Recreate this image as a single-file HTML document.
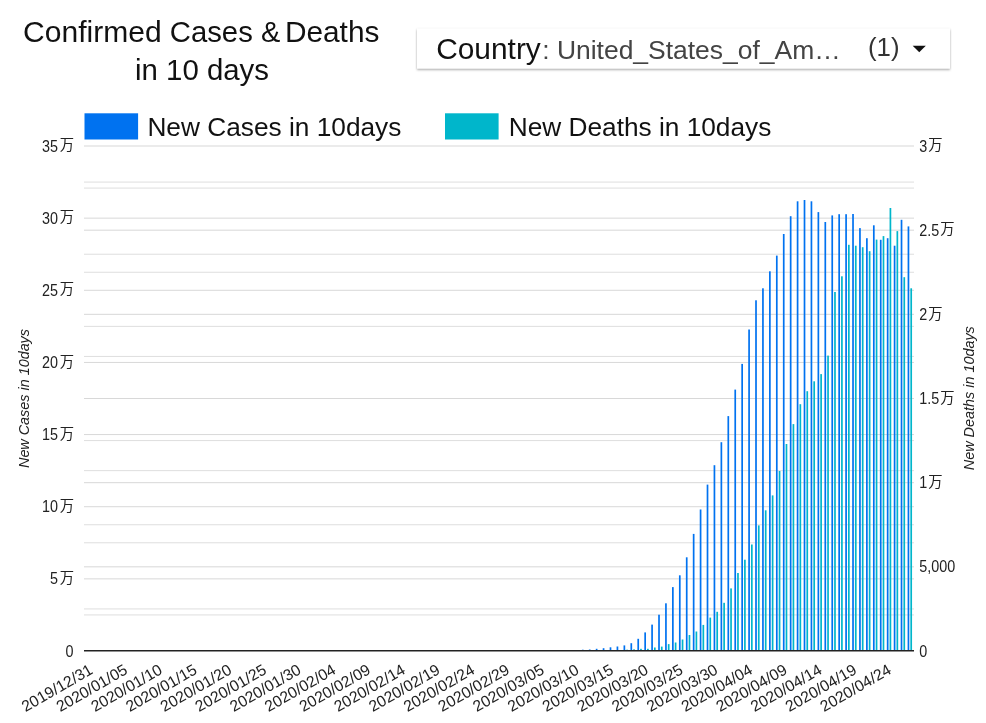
<!DOCTYPE html>
<html><head><meta charset="utf-8"><title>Confirmed Cases &amp; Deaths in 10 days</title>
<style>
html,body{margin:0;padding:0;background:#fff;}
body{width:986px;height:723px;overflow:hidden;position:relative;font-family:"Liberation Sans","Noto Sans CJK JP",sans-serif;}
svg{position:absolute;left:0;top:0;display:block}
text{font-family:"Liberation Sans","Noto Sans CJK JP",sans-serif;}
.ax{font-size:15.7px;fill:#222;}
.title{font-size:29px;fill:#111;}
.leg{font-size:26px;fill:#111;}
.cj{font-size:14.3px;fill:#222;}
.at{font-size:14.2px;font-style:italic;fill:#222;}
</style></head><body>
<svg width="986" height="723" viewBox="0 0 986 723">
<defs><filter id="sh" x="-5%" y="-20%" width="110%" height="150%"><feDropShadow dx="0" dy="1.2" stdDeviation="1.1" flood-color="#000" flood-opacity="0.38"/></filter></defs>
<rect width="986" height="723" fill="#fff"/>
<text class="title" y="42.3"><tspan x="23.1" textLength="138.6" lengthAdjust="spacingAndGlyphs">Confirmed</tspan> <tspan x="169.8" textLength="83" lengthAdjust="spacingAndGlyphs">Cases</tspan> <tspan x="260.9" textLength="19.3" lengthAdjust="spacingAndGlyphs">&amp;</tspan> <tspan x="284.9" textLength="94.5" lengthAdjust="spacingAndGlyphs">Deaths</tspan></text>
<text class="title" x="202" y="79.9" text-anchor="middle" textLength="134" lengthAdjust="spacingAndGlyphs">in 10 days</text>
<rect x="417" y="28.5" width="533" height="40" fill="#fff" filter="url(#sh)"/>
<text x="436.2" y="59.0" font-size="30" fill="#111" textLength="104.6" lengthAdjust="spacingAndGlyphs">Country</text>
<text x="542.2" y="59.2" font-size="25" fill="#444" textLength="298.5" lengthAdjust="spacingAndGlyphs">: United_States_of_Am…</text>
<text x="868" y="56.0" font-size="25" fill="#333" textLength="31.5" lengthAdjust="spacingAndGlyphs">(1)</text>
<path d="M912.7 45.8 L925.8 45.8 L919.25 52.3 Z" fill="#111"/>
<rect x="84.5" y="113.3" width="53.6" height="26.2" fill="#0072f0"/>
<text class="leg" x="147.4" y="136.0" textLength="254" lengthAdjust="spacingAndGlyphs">New Cases in 10days</text>
<rect x="445" y="113.3" width="53.6" height="26.2" fill="#00b6cb"/>
<text class="leg" x="508.7" y="136.0" textLength="262.6" lengthAdjust="spacingAndGlyphs">New Deaths in 10days</text>
<g>
<rect x="84.0" y="578.36" width="830.0" height="1" fill="#d8d8d8"/>
<rect x="84.0" y="506.21" width="830.0" height="1" fill="#d8d8d8"/>
<rect x="84.0" y="434.07" width="830.0" height="1" fill="#d8d8d8"/>
<rect x="84.0" y="361.93" width="830.0" height="1" fill="#d8d8d8"/>
<rect x="84.0" y="289.79" width="830.0" height="1" fill="#d8d8d8"/>
<rect x="84.0" y="217.64" width="830.0" height="1" fill="#d8d8d8"/>
<rect x="84.0" y="145.50" width="830.0" height="1" fill="#d8d8d8"/>
<rect x="84.0" y="614.43" width="830.0" height="1" fill="#dedede"/>
<rect x="84.0" y="542.29" width="830.0" height="1" fill="#dedede"/>
<rect x="84.0" y="470.14" width="830.0" height="1" fill="#dedede"/>
<rect x="84.0" y="398.00" width="830.0" height="1" fill="#dedede"/>
<rect x="84.0" y="325.86" width="830.0" height="1" fill="#dedede"/>
<rect x="84.0" y="253.71" width="830.0" height="1" fill="#dedede"/>
<rect x="84.0" y="181.57" width="830.0" height="1" fill="#dedede"/>
<rect x="84.0" y="566.33" width="830.0" height="1" fill="#d8d8d8"/>
<rect x="84.0" y="482.17" width="830.0" height="1" fill="#d8d8d8"/>
<rect x="84.0" y="398.00" width="830.0" height="1" fill="#d8d8d8"/>
<rect x="84.0" y="313.83" width="830.0" height="1" fill="#d8d8d8"/>
<rect x="84.0" y="229.67" width="830.0" height="1" fill="#d8d8d8"/>
<rect x="84.0" y="608.42" width="830.0" height="1" fill="#dedede"/>
<rect x="84.0" y="524.25" width="830.0" height="1" fill="#dedede"/>
<rect x="84.0" y="440.08" width="830.0" height="1" fill="#dedede"/>
<rect x="84.0" y="355.92" width="830.0" height="1" fill="#dedede"/>
<rect x="84.0" y="271.75" width="830.0" height="1" fill="#dedede"/>
<rect x="84.0" y="187.58" width="830.0" height="1" fill="#dedede"/>
</g>
<g>
<rect x="581.94" y="649.70" width="1.7" height="0.60" fill="#0072f0"/>
<rect x="588.87" y="649.50" width="1.7" height="0.80" fill="#0072f0"/>
<rect x="595.79" y="648.80" width="1.7" height="1.50" fill="#0072f0"/>
<rect x="602.72" y="648.20" width="1.7" height="2.10" fill="#0072f0"/>
<rect x="609.65" y="647.30" width="1.7" height="3.00" fill="#0072f0"/>
<rect x="616.58" y="646.50" width="1.7" height="3.80" fill="#0072f0"/>
<rect x="623.51" y="645.40" width="1.7" height="4.90" fill="#0072f0"/>
<rect x="626.26" y="649.70" width="1.7" height="0.60" fill="#00b6cb"/>
<rect x="630.44" y="643.20" width="1.7" height="7.10" fill="#0072f0"/>
<rect x="633.19" y="649.30" width="1.7" height="1.00" fill="#00b6cb"/>
<rect x="637.37" y="638.80" width="1.7" height="11.50" fill="#0072f0"/>
<rect x="640.12" y="648.80" width="1.7" height="1.50" fill="#00b6cb"/>
<rect x="644.30" y="632.40" width="1.7" height="17.90" fill="#0072f0"/>
<rect x="647.05" y="648.80" width="1.7" height="1.50" fill="#00b6cb"/>
<rect x="651.23" y="624.60" width="1.7" height="25.70" fill="#0072f0"/>
<rect x="653.98" y="647.50" width="1.7" height="2.80" fill="#00b6cb"/>
<rect x="658.16" y="614.70" width="1.7" height="35.60" fill="#0072f0"/>
<rect x="660.91" y="646.60" width="1.7" height="3.70" fill="#00b6cb"/>
<rect x="665.09" y="603.30" width="1.7" height="47.00" fill="#0072f0"/>
<rect x="667.84" y="644.10" width="1.7" height="6.20" fill="#00b6cb"/>
<rect x="672.01" y="587.10" width="1.7" height="63.20" fill="#0072f0"/>
<rect x="674.76" y="642.50" width="1.7" height="7.80" fill="#00b6cb"/>
<rect x="678.94" y="575.30" width="1.7" height="75.00" fill="#0072f0"/>
<rect x="681.69" y="639.50" width="1.7" height="10.80" fill="#00b6cb"/>
<rect x="685.87" y="557.30" width="1.7" height="93.00" fill="#0072f0"/>
<rect x="688.62" y="635.00" width="1.7" height="15.30" fill="#00b6cb"/>
<rect x="692.80" y="533.90" width="1.7" height="116.40" fill="#0072f0"/>
<rect x="695.55" y="631.50" width="1.7" height="18.80" fill="#00b6cb"/>
<rect x="699.73" y="509.50" width="1.7" height="140.80" fill="#0072f0"/>
<rect x="702.48" y="624.90" width="1.7" height="25.40" fill="#00b6cb"/>
<rect x="706.66" y="484.60" width="1.7" height="165.70" fill="#0072f0"/>
<rect x="709.41" y="617.60" width="1.7" height="32.70" fill="#00b6cb"/>
<rect x="713.59" y="465.20" width="1.7" height="185.10" fill="#0072f0"/>
<rect x="716.34" y="611.80" width="1.7" height="38.50" fill="#00b6cb"/>
<rect x="720.52" y="442.20" width="1.7" height="208.10" fill="#0072f0"/>
<rect x="723.27" y="602.80" width="1.7" height="47.50" fill="#00b6cb"/>
<rect x="727.45" y="416.10" width="1.7" height="234.20" fill="#0072f0"/>
<rect x="730.20" y="588.40" width="1.7" height="61.90" fill="#00b6cb"/>
<rect x="734.38" y="389.60" width="1.7" height="260.70" fill="#0072f0"/>
<rect x="737.12" y="573.00" width="1.7" height="77.30" fill="#00b6cb"/>
<rect x="741.30" y="363.90" width="1.7" height="286.40" fill="#0072f0"/>
<rect x="744.05" y="559.70" width="1.7" height="90.60" fill="#00b6cb"/>
<rect x="748.23" y="329.50" width="1.7" height="320.80" fill="#0072f0"/>
<rect x="750.98" y="544.50" width="1.7" height="105.80" fill="#00b6cb"/>
<rect x="755.16" y="300.30" width="1.7" height="350.00" fill="#0072f0"/>
<rect x="757.91" y="525.40" width="1.7" height="124.90" fill="#00b6cb"/>
<rect x="762.09" y="288.30" width="1.7" height="362.00" fill="#0072f0"/>
<rect x="764.84" y="510.30" width="1.7" height="140.00" fill="#00b6cb"/>
<rect x="769.02" y="271.30" width="1.7" height="379.00" fill="#0072f0"/>
<rect x="771.77" y="495.40" width="1.7" height="154.90" fill="#00b6cb"/>
<rect x="775.95" y="255.60" width="1.7" height="394.70" fill="#0072f0"/>
<rect x="778.70" y="471.00" width="1.7" height="179.30" fill="#00b6cb"/>
<rect x="782.88" y="234.00" width="1.7" height="416.30" fill="#0072f0"/>
<rect x="785.63" y="444.00" width="1.7" height="206.30" fill="#00b6cb"/>
<rect x="789.81" y="216.20" width="1.7" height="434.10" fill="#0072f0"/>
<rect x="792.56" y="424.10" width="1.7" height="226.20" fill="#00b6cb"/>
<rect x="796.74" y="201.30" width="1.7" height="449.00" fill="#0072f0"/>
<rect x="799.49" y="404.20" width="1.7" height="246.10" fill="#00b6cb"/>
<rect x="803.66" y="200.00" width="1.7" height="450.30" fill="#0072f0"/>
<rect x="806.41" y="391.20" width="1.7" height="259.10" fill="#00b6cb"/>
<rect x="810.59" y="201.30" width="1.7" height="449.00" fill="#0072f0"/>
<rect x="813.34" y="381.30" width="1.7" height="269.00" fill="#00b6cb"/>
<rect x="817.52" y="212.10" width="1.7" height="438.20" fill="#0072f0"/>
<rect x="820.27" y="374.10" width="1.7" height="276.20" fill="#00b6cb"/>
<rect x="824.45" y="222.00" width="1.7" height="428.30" fill="#0072f0"/>
<rect x="827.20" y="355.60" width="1.7" height="294.70" fill="#00b6cb"/>
<rect x="831.38" y="215.40" width="1.7" height="434.90" fill="#0072f0"/>
<rect x="834.13" y="292.00" width="1.7" height="358.30" fill="#00b6cb"/>
<rect x="838.31" y="214.20" width="1.7" height="436.10" fill="#0072f0"/>
<rect x="841.06" y="276.30" width="1.7" height="374.00" fill="#00b6cb"/>
<rect x="845.24" y="214.20" width="1.7" height="436.10" fill="#0072f0"/>
<rect x="847.99" y="244.80" width="1.7" height="405.50" fill="#00b6cb"/>
<rect x="852.17" y="214.00" width="1.7" height="436.30" fill="#0072f0"/>
<rect x="854.92" y="245.70" width="1.7" height="404.60" fill="#00b6cb"/>
<rect x="859.10" y="228.10" width="1.7" height="422.20" fill="#0072f0"/>
<rect x="861.85" y="247.20" width="1.7" height="403.10" fill="#00b6cb"/>
<rect x="866.03" y="238.20" width="1.7" height="412.10" fill="#0072f0"/>
<rect x="868.78" y="251.20" width="1.7" height="399.10" fill="#00b6cb"/>
<rect x="872.96" y="225.30" width="1.7" height="425.00" fill="#0072f0"/>
<rect x="875.71" y="239.60" width="1.7" height="410.70" fill="#00b6cb"/>
<rect x="879.88" y="239.80" width="1.7" height="410.50" fill="#0072f0"/>
<rect x="882.63" y="236.10" width="1.7" height="414.20" fill="#00b6cb"/>
<rect x="886.81" y="238.20" width="1.7" height="412.10" fill="#0072f0"/>
<rect x="889.56" y="208.00" width="1.7" height="442.30" fill="#00b6cb"/>
<rect x="893.74" y="245.70" width="1.7" height="404.60" fill="#0072f0"/>
<rect x="896.49" y="231.10" width="1.7" height="419.20" fill="#00b6cb"/>
<rect x="900.67" y="219.80" width="1.7" height="430.50" fill="#0072f0"/>
<rect x="903.42" y="277.20" width="1.7" height="373.10" fill="#00b6cb"/>
<rect x="907.60" y="226.40" width="1.7" height="423.90" fill="#0072f0"/>
<rect x="910.35" y="288.30" width="1.7" height="362.00" fill="#00b6cb"/>
</g>
<rect x="84.0" y="650.0" width="830.0" height="1.5" fill="#222"/>
<g>
<text class="ax" text-anchor="end" transform="translate(73.6,656.50) scale(0.915,1)">0</text>
<text class="cj" x="74.0" y="583.06" text-anchor="end">万</text>
<text class="ax" text-anchor="end" transform="translate(58.0,584.36) scale(0.915,1)">5</text>
<text class="cj" x="74.0" y="510.91" text-anchor="end">万</text>
<text class="ax" text-anchor="end" transform="translate(58.0,512.21) scale(0.915,1)">10</text>
<text class="cj" x="74.0" y="438.77" text-anchor="end">万</text>
<text class="ax" text-anchor="end" transform="translate(58.0,440.07) scale(0.915,1)">15</text>
<text class="cj" x="74.0" y="366.63" text-anchor="end">万</text>
<text class="ax" text-anchor="end" transform="translate(58.0,367.93) scale(0.915,1)">20</text>
<text class="cj" x="74.0" y="294.49" text-anchor="end">万</text>
<text class="ax" text-anchor="end" transform="translate(58.0,295.79) scale(0.915,1)">25</text>
<text class="cj" x="74.0" y="222.34" text-anchor="end">万</text>
<text class="ax" text-anchor="end" transform="translate(58.0,223.64) scale(0.915,1)">30</text>
<text class="cj" x="74.0" y="150.20" text-anchor="end">万</text>
<text class="ax" text-anchor="end" transform="translate(58.0,151.50) scale(0.915,1)">35</text>
<text class="ax" transform="translate(919.3,656.50) scale(0.915,1)">0</text>
<text class="ax" transform="translate(919.3,572.33) scale(0.915,1)">5,000</text>
<text class="ax" transform="translate(919.3,488.17) scale(0.915,1)">1</text>
<text class="cj" x="928.19" y="486.87">万</text>
<text class="ax" transform="translate(919.3,404.00) scale(0.915,1)">1.5</text>
<text class="cj" x="940.17" y="402.70">万</text>
<text class="ax" transform="translate(919.3,319.83) scale(0.915,1)">2</text>
<text class="cj" x="928.19" y="318.53">万</text>
<text class="ax" transform="translate(919.3,235.67) scale(0.915,1)">2.5</text>
<text class="cj" x="940.17" y="234.37">万</text>
<text class="ax" transform="translate(919.3,151.50) scale(0.915,1)">3</text>
<text class="cj" x="928.19" y="150.20">万</text>
</g>
<g>
<text class="ax" text-anchor="end" textLength="79" lengthAdjust="spacingAndGlyphs" transform="translate(93.90,672.8) rotate(-30)">2019/12/31</text>
<text class="ax" text-anchor="end" textLength="79" lengthAdjust="spacingAndGlyphs" transform="translate(128.62,672.8) rotate(-30)">2020/01/05</text>
<text class="ax" text-anchor="end" textLength="79" lengthAdjust="spacingAndGlyphs" transform="translate(163.34,672.8) rotate(-30)">2020/01/10</text>
<text class="ax" text-anchor="end" textLength="79" lengthAdjust="spacingAndGlyphs" transform="translate(198.06,672.8) rotate(-30)">2020/01/15</text>
<text class="ax" text-anchor="end" textLength="79" lengthAdjust="spacingAndGlyphs" transform="translate(232.78,672.8) rotate(-30)">2020/01/20</text>
<text class="ax" text-anchor="end" textLength="79" lengthAdjust="spacingAndGlyphs" transform="translate(267.50,672.8) rotate(-30)">2020/01/25</text>
<text class="ax" text-anchor="end" textLength="79" lengthAdjust="spacingAndGlyphs" transform="translate(302.22,672.8) rotate(-30)">2020/01/30</text>
<text class="ax" text-anchor="end" textLength="79" lengthAdjust="spacingAndGlyphs" transform="translate(336.94,672.8) rotate(-30)">2020/02/04</text>
<text class="ax" text-anchor="end" textLength="79" lengthAdjust="spacingAndGlyphs" transform="translate(371.66,672.8) rotate(-30)">2020/02/09</text>
<text class="ax" text-anchor="end" textLength="79" lengthAdjust="spacingAndGlyphs" transform="translate(406.38,672.8) rotate(-30)">2020/02/14</text>
<text class="ax" text-anchor="end" textLength="79" lengthAdjust="spacingAndGlyphs" transform="translate(441.10,672.8) rotate(-30)">2020/02/19</text>
<text class="ax" text-anchor="end" textLength="79" lengthAdjust="spacingAndGlyphs" transform="translate(475.82,672.8) rotate(-30)">2020/02/24</text>
<text class="ax" text-anchor="end" textLength="79" lengthAdjust="spacingAndGlyphs" transform="translate(510.54,672.8) rotate(-30)">2020/02/29</text>
<text class="ax" text-anchor="end" textLength="79" lengthAdjust="spacingAndGlyphs" transform="translate(545.26,672.8) rotate(-30)">2020/03/05</text>
<text class="ax" text-anchor="end" textLength="79" lengthAdjust="spacingAndGlyphs" transform="translate(579.98,672.8) rotate(-30)">2020/03/10</text>
<text class="ax" text-anchor="end" textLength="79" lengthAdjust="spacingAndGlyphs" transform="translate(614.70,672.8) rotate(-30)">2020/03/15</text>
<text class="ax" text-anchor="end" textLength="79" lengthAdjust="spacingAndGlyphs" transform="translate(649.42,672.8) rotate(-30)">2020/03/20</text>
<text class="ax" text-anchor="end" textLength="79" lengthAdjust="spacingAndGlyphs" transform="translate(684.14,672.8) rotate(-30)">2020/03/25</text>
<text class="ax" text-anchor="end" textLength="79" lengthAdjust="spacingAndGlyphs" transform="translate(718.86,672.8) rotate(-30)">2020/03/30</text>
<text class="ax" text-anchor="end" textLength="79" lengthAdjust="spacingAndGlyphs" transform="translate(753.58,672.8) rotate(-30)">2020/04/04</text>
<text class="ax" text-anchor="end" textLength="79" lengthAdjust="spacingAndGlyphs" transform="translate(788.30,672.8) rotate(-30)">2020/04/09</text>
<text class="ax" text-anchor="end" textLength="79" lengthAdjust="spacingAndGlyphs" transform="translate(823.02,672.8) rotate(-30)">2020/04/14</text>
<text class="ax" text-anchor="end" textLength="79" lengthAdjust="spacingAndGlyphs" transform="translate(857.74,672.8) rotate(-30)">2020/04/19</text>
<text class="ax" text-anchor="end" textLength="79" lengthAdjust="spacingAndGlyphs" transform="translate(892.46,672.8) rotate(-30)">2020/04/24</text>
</g>
<text class="at" text-anchor="middle" textLength="139" lengthAdjust="spacingAndGlyphs" transform="translate(29.2,398.5) rotate(-90)">New Cases in 10days</text>
<text class="at" text-anchor="middle" textLength="144" lengthAdjust="spacingAndGlyphs" transform="translate(973.6,398.2) rotate(-90)">New Deaths in 10days</text>
</svg>
</body></html>
